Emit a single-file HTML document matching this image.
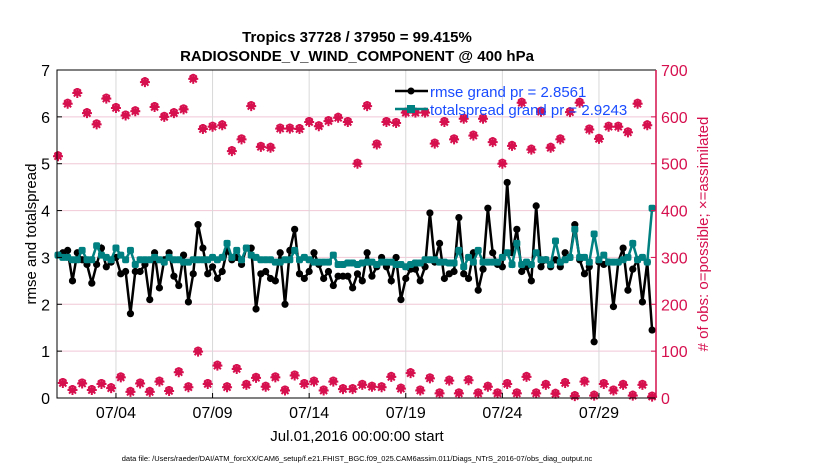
<!DOCTYPE html>
<html><head><meta charset="utf-8"><style>
body{margin:0;background:#fff;}
svg{display:block;font-family:"Liberation Sans",sans-serif;}
</style></head><body>
<svg id="chart" width="830" height="470" viewBox="0 0 830 470">
<text x="357" y="42" text-anchor="middle" font-size="15" font-weight="bold">Tropics 37728 / 37950 = 99.415%</text>
<text x="357" y="61" text-anchor="middle" font-size="15" font-weight="bold">RADIOSONDE_V_WIND_COMPONENT @ 400 hPa</text>
<g id="grid"></g><g id="marks"></g><g id="axes"></g>
<text x="357" y="441" text-anchor="middle" font-size="15">Jul.01,2016 00:00:00 start</text>
<text transform="translate(36,234) rotate(-90)" text-anchor="middle" font-size="15">rmse and totalspread</text>
<text transform="translate(708,234) rotate(-90)" text-anchor="middle" font-size="15" fill="#d6104f"># of obs: o=possible; ×=assimilated</text>
<text x="357" y="461" text-anchor="middle" font-size="7.5">data file: /Users/raeder/DAI/ATM_forcXX/CAM6_setup/f.e21.FHIST_BGC.f09_025.CAM6assim.011/Diags_NTrS_2016-07/obs_diag_output.nc</text>
<g>
<line x1="395" y1="91" x2="428" y2="91" stroke="#000" stroke-width="2.5"/>
<circle cx="411" cy="91" r="3.5" fill="#000"/>
<text x="430" y="97" font-size="15" fill="#1a4cff">rmse grand pr = 2.8561</text>
<line x1="395" y1="109" x2="428" y2="109" stroke="#008080" stroke-width="2.5"/>
<rect x="407" y="105" width="8" height="8" fill="#008080"/>
<text x="430" y="115" font-size="15" fill="#1a4cff">totalspread grand pr = 2.9243</text>
</g>
</svg>
<script>
const rmse=[3.05,3.1,3.15,2.5,3.1,2.95,2.85,2.45,2.85,3.2,2.8,2.9,3.0,2.65,2.7,1.8,2.7,2.7,2.85,2.1,3.1,2.35,2.95,3.1,2.6,2.4,3.05,2.05,2.65,3.7,3.2,2.65,2.8,2.55,2.7,3.15,2.95,3.0,2.85,3.2,3.2,1.9,2.65,2.7,2.55,2.5,3.1,2.0,3.15,3.6,2.65,2.55,2.7,3.1,2.85,2.55,2.7,2.4,2.6,2.6,2.6,2.35,2.65,
2.5,3.1,2.6,2.8,3.0,2.8,2.5,3.0,2.1,2.55,2.75,2.75,2.5,2.8,3.95,2.9,3.3,2.55,2.65,2.7,3.85,2.65,2.55,3.1,2.3,2.75,4.05,3.1,2.85,2.8,4.6,3.1,3.6,2.7,2.8,2.5,4.1,2.8,2.95,2.8,2.95,2.8,3.1,3.0,3.7,2.95,2.65,2.8,1.2,2.9,2.85,2.9,1.95,2.9,3.2,2.3,2.75,2.95,2.05,2.9,1.45];
const spread=[3.05,3.0,3.0,2.95,2.95,3.15,2.95,2.95,3.25,3.05,3.0,2.95,3.2,3.05,2.95,3.15,
2.85,2.95,2.95,2.95,3.0,2.95,2.9,3.0,2.95,2.95,2.9,2.9,2.95,2.95,2.95,2.95,
3.0,2.95,3.0,3.3,3.0,3.15,2.95,3.2,3.05,3.0,2.95,2.95,2.95,2.9,2.9,2.95,
2.95,3.15,2.95,3.0,2.95,2.9,2.9,2.9,2.9,3.05,2.85,2.85,2.88,2.88,2.85,
2.88,2.9,2.9,2.85,2.9,2.9,2.9,2.85,2.85,2.8,2.85,2.88,2.88,2.95,2.95,2.95,
2.9,2.9,2.88,2.88,3.15,2.8,3.0,2.9,3.15,2.9,2.9,2.9,2.9,3.0,3.1,2.85,
3.3,2.85,2.9,2.85,3.1,2.95,2.95,2.85,3.35,2.9,2.95,3.0,3.6,3.0,3.0,2.9,
3.5,2.95,3.05,2.9,2.9,2.9,2.95,3.0,3.3,2.95,3.0,2.9,4.05];
const nPossible=[516,628,651,608,584,639,619,603,612,674,621,600,608,616,681,574,579,582,527,552,623,536,534,575,575,574,589,580,591,598,589,500,
623,541,589,587,609,609,609,543,589,552,596,560,596,546,500,538,630,530,611,534,552,610,630,573,553,579,579,567,628,582];
const nLow=[32,17,31,17,30,21,44,13,31,13,35,15,55,23,99,30,69,23,62,28,43,24,44,16,48,30,35,16,35,19,19,
28,24,23,45,20,53,16,42,10,37,10,38,10,24,10,30,10,45,10,28,9,32,4,35,5,30,16,28,5,28,3];
const leftTicks=[0,1,2,3,4,5,6,7];
const rightTicks=[0,100,200,300,400,500,600,700];
const xTickDays=[3,8,13,18,23,28];
const xTickLabels=["07/04","07/09","07/14","07/19","07/24","07/29"];

const L=57,R=656,T=70,B=398;
const xs=d=>58+d*19.32;
const yl=v=>B-(v/7)*(B-T);
const yr=v=>B-(v/700)*(B-T);
const NS='http://www.w3.org/2000/svg';
function mk(tag,attrs,parent){const e=document.createElementNS(NS,tag);for(const k in attrs)e.setAttribute(k,attrs[k]);parent.appendChild(e);return e;}
const grid=document.getElementById('grid'),marks=document.getElementById('marks'),axes=document.getElementById('axes');
const CR='#d6104f';

leftTicks.forEach(v=>{
  if(v>0&&v<7){const g=mk('line',{x1:L,x2:R,y1:yl(v),y2:yl(v),stroke:'#f0c8d6','stroke-width':1},grid);
  
  }
  const t=mk('text',{x:L-7,y:yl(v)+6,'text-anchor':'end','font-size':16},axes);t.textContent=v;
  
  
  mk('line',{x1:L,x2:L+5,y1:yl(v),y2:yl(v),stroke:'#000'},axes);
});
rightTicks.forEach(v=>{
  const t=mk('text',{x:R+5,y:yr(v)+6,'font-size':16,fill:CR},axes);t.textContent=v;
  
  
  mk('line',{x1:R-5,x2:R,y1:yr(v),y2:yr(v),stroke:CR},axes);
});
xTickDays.forEach((d,i)=>{
  const g=mk('line',{x1:xs(d),x2:xs(d),y1:T,y2:B,stroke:'#d8d8d8','stroke-width':1},grid);
  
  
  mk('line',{x1:xs(d),x2:xs(d),y1:B-5,y2:B,stroke:'#000'},axes);
  const t=mk('text',{x:xs(d),y:B+20,'text-anchor':'middle','font-size':16},axes);t.textContent=xTickLabels[i];
  
  
});
const frame=mk('path',{d:`M${R},${T}H${L}V${B}H${R}`,fill:'none',stroke:'#000','stroke-width':1},axes);


const rax=mk('line',{x1:R,x2:R,y1:T,y2:B,stroke:CR,'stroke-width':1.5},axes);



function star(x,y,name){
  const g=mk('g',{},marks);
  
  
  mk('circle',{cx:x,cy:y-1,r:3.2,fill:'none',stroke:CR,'stroke-width':1.6},g);
  mk('path',{d:`M${x-5},${y}H${x+5}M${x},${y-5}V${y+5}M${x-3.5},${y-3.5}L${x+3.5},${y+3.5}M${x-3.5},${y+3.5}L${x+3.5},${y-3.5}`,stroke:CR,'stroke-width':2},g);
}
nPossible.forEach((v,i)=>star(xs(i*0.5),yr(v),'possible-count-marker'));
nLow.forEach((v,i)=>star(xs(0.25+i*0.5),yr(v),'low-count-marker'));

const rl=mk('polyline',{points:rmse.map((v,i)=>xs(i*0.25)+','+yl(v)).join(' '),fill:'none',stroke:'#000','stroke-width':2.5},marks);


rmse.forEach((v,i)=>{const c=mk('circle',{cx:xs(i*0.25),cy:yl(v),r:3.6,fill:'#000'},marks);
  
  });
const sl=mk('polyline',{points:spread.map((v,i)=>xs(i*0.25)+','+yl(v)).join(' '),fill:'none',stroke:'#008080','stroke-width':2.5},marks);


spread.forEach((v,i)=>{const c=mk('rect',{x:xs(i*0.25)-3.5,y:yl(v)-3.5,width:7,height:7,rx:2,fill:'#008080'},marks);
  
  });
</script>
</body></html>
